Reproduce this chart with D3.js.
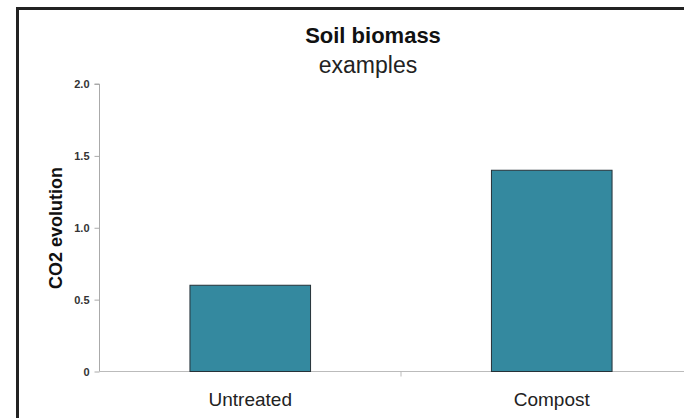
<!DOCTYPE html>
<html>
<head>
<meta charset="utf-8">
<script src="https://cdn.jsdelivr.net/npm/d3@7"></script>
<style>
  body { margin: 0; background: #fff; }
  svg { display: block; font-family: "Liberation Sans", Arial, sans-serif; }
</style>
</head>
<body>
<svg></svg>
<script>
// Chart data
const categories = ["Untreated", "Compost"];
const values = [0.6, 1.4];
const yTicks = [0, 0.5, 1.0, 1.5, 2.0];
const yTickLabels = ["0", "0.5", "1.0", "1.5", "2.0"];

const W = 684, H = 418;

const svg = d3.select("svg")
    .attr("width", W)
    .attr("height", H);

// Frame (top and left only)
svg.append("path")
    .attr("d", `M17.5,${H} V8.5 H${W}`)
    .attr("fill", "none")
    .attr("stroke", "#222")
    .attr("stroke-width", 3);

// Scales
const x = d3.scaleBand()
    .domain(categories)
    .range([99.5, 702.5])
    .paddingInner(0.6)
    .paddingOuter(0.3);

const y = d3.scaleLinear()
    .domain([0, 2])
    .range([371.5, 84]);

// Y axis
const yAxis = svg.append("g")
    .attr("transform", "translate(99.5,0)")
    .call(d3.axisLeft(y)
      .tickValues(yTicks)
      .tickFormat((d, i) => yTickLabels[i])
      .tickSize(5)
      .tickPadding(5));
yAxis.select(".domain").attr("stroke", "#aaa").attr("d", `M-5,${y(2)}H0V${y(0)}`);
yAxis.selectAll(".tick line").attr("stroke", "#aaa");
yAxis.selectAll(".tick text")
    .attr("fill", "#333")
    .style("font-size", "11px")
    .style("font-weight", "bold");

// X axis
const xAxis = svg.append("g")
    .attr("transform", `translate(0,${y(0)})`)
    .call(d3.axisBottom(x).tickSize(0).tickPadding(21));
xAxis.select(".domain").attr("stroke", "#bbb").attr("d", `M${99.5},0H${W}`);
xAxis.selectAll(".tick text")
    .attr("fill", "#222")
    .style("font-size", "19px");

// Tick between categories
xAxis.append("line")
    .attr("x1", (x("Untreated") + x("Compost") + x.bandwidth()) / 2)
    .attr("x2", (x("Untreated") + x("Compost") + x.bandwidth()) / 2)
    .attr("y1", 0).attr("y2", 5)
    .attr("stroke", "#bbb");

// Bars
svg.append("g")
  .selectAll("rect")
  .data(categories)
  .enter()
  .append("rect")
    .attr("x", d => x(d))
    .attr("y", (d, i) => y(values[i]))
    .attr("width", x.bandwidth())
    .attr("height", (d, i) => y(0) - y(values[i]))
    .attr("fill", "#34899f")
    .attr("stroke", "#263238")
    .attr("stroke-width", 1);

// Titles
svg.append("text")
    .attr("x", 373)
    .attr("y", 43)
    .attr("text-anchor", "middle")
    .style("font-size", "22px")
    .style("font-weight", "bold")
    .attr("fill", "#111")
    .text("Soil biomass");

svg.append("text")
    .attr("x", 368)
    .attr("y", 73)
    .attr("text-anchor", "middle")
    .style("font-size", "23px")
    .attr("fill", "#222")
    .text("examples");

// Y axis label
svg.append("text")
    .attr("transform", "translate(62,228) rotate(-90)")
    .attr("text-anchor", "middle")
    .style("font-size", "18px")
    .style("font-weight", "bold")
    .attr("fill", "#111")
    .text("CO2 evolution");
</script>
</body>
</html>
